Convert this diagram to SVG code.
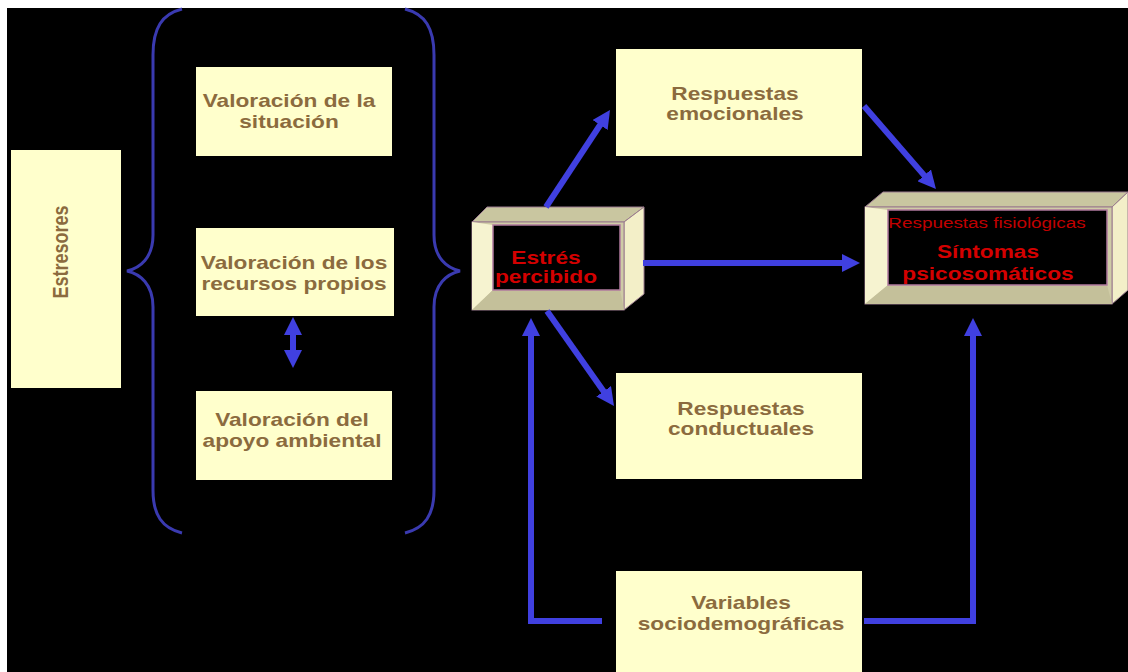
<svg xmlns="http://www.w3.org/2000/svg" width="1128" height="672" viewBox="0 0 1128 672">
<style>
.box{fill:#ffffcc}
.lbl{font-family:"Liberation Sans",Arial,sans-serif;font-weight:bold;font-size:18px;fill:#8b6b3e;text-anchor:middle}
.red{font-family:"Liberation Sans",Arial,sans-serif;font-weight:bold;font-size:18px;fill:#d40000;text-anchor:middle}
.small{font-family:"Liberation Sans",Arial,sans-serif;font-size:15px;fill:#c00000;text-anchor:middle}
.arrow{fill:none;stroke:#4040e0;stroke-width:6}
.brace{fill:none;stroke:#3a3ab0;stroke-width:3}
.top{fill:#c9c6a0;stroke:#9a7a8e;stroke-width:1}
.side{fill:#f3efc8;stroke:#9a7a8e;stroke-width:1}
.inner{fill:#000;stroke:#b07a9e;stroke-width:1.5}
</style>
<defs>
<marker id="ah" viewBox="0 0 18 18" markerWidth="18" markerHeight="18" markerUnits="userSpaceOnUse" refX="6" refY="9" orient="auto-start-reverse">
<path d="M0,0 L18,9 L0,18 z" fill="#4040e0"/>
</marker>
</defs>
<rect x="0" y="0" width="1128" height="672" fill="#ffffff"/>
<rect x="7" y="8" width="1121" height="664" fill="#000000"/>

<g id="braces">
<path class="brace" d="M182,9 C162,14 153,28 153,55 L153,235 C153,258 140,268 127,271 C140,274 153,284 153,307 L153,490 C153,515 162,528 182,533"/>
<path class="brace" d="M405,9 C425,14 434,28 434,55 L434,235 C434,258 447,268 460,271 C447,274 434,284 434,307 L434,490 C434,515 425,528 405,533"/>
</g>

<g id="estresores">
<rect class="box" x="11" y="150" width="110" height="238"/>
<text class="lbl" transform="translate(68,252) rotate(-90) scale(1,1.26)">Estresores</text>
</g>

<g id="valoracion-situacion">
<rect class="box" x="196" y="67" width="196" height="89"/>
<text class="lbl" transform="translate(289,107) scale(1.26,1)"><tspan x="0">Valoración de la</tspan><tspan x="0" y="21">situación</tspan></text>
</g>

<g id="valoracion-recursos">
<rect class="box" x="196" y="228" width="198" height="88"/>
<text class="lbl" transform="translate(294,269) scale(1.26,1)"><tspan x="0">Valoración de los</tspan><tspan x="0" y="21">recursos propios</tspan></text>
</g>

<g id="valoracion-apoyo">
<rect class="box" x="196" y="391" width="196" height="89"/>
<text class="lbl" transform="translate(292,426) scale(1.26,1)"><tspan x="0">Valoración del</tspan><tspan x="0" y="21">apoyo ambiental</tspan></text>
</g>

<g id="estres-percibido">
<polygon class="top" points="472,222 487,207 644,207 624,222"/>
<polygon class="side" points="624,222 644,207 644,294 624,310"/>
<rect x="472" y="222" width="152" height="88" fill="#cfcba6" stroke="#9a7a8e" stroke-width="1"/>
<polygon points="472,222 493,225 493,290 472,310" fill="#f6f3d0"/>
<polygon points="472,310 493,290 620,290 624,310" fill="#c4c09a"/>
<rect class="inner" x="493" y="225" width="127" height="65"/>
<text class="red" transform="translate(546,264) scale(1.26,1)"><tspan x="0">Estrés</tspan><tspan x="0" y="19">percibido</tspan></text>
</g>

<g id="sintomas">
<polygon class="top" points="865,207 883,192 1128,192 1112,207"/>
<polygon class="side" points="1112,207 1128,192 1128,290 1112,304"/>
<rect x="865" y="207" width="247" height="97" fill="#cfcba6" stroke="#9a7a8e" stroke-width="1"/>
<polygon points="865,207 888,210 888,285 865,304" fill="#f6f3d0"/>
<polygon points="865,304 888,285 1107,285 1112,304" fill="#c4c09a"/>
<rect class="inner" x="888" y="210" width="219" height="75"/>
<text class="small" transform="translate(987,228) scale(1.26,1)">Respuestas fisiológicas</text>
<text class="red" transform="translate(988,258) scale(1.26,1)"><tspan x="0">Síntomas</tspan><tspan x="0" y="22">psicosomáticos</tspan></text>
</g>

<g id="respuestas-emocionales">
<rect class="box" x="616" y="49" width="246" height="107"/>
<text class="lbl" transform="translate(735,100) scale(1.26,1)"><tspan x="0">Respuestas</tspan><tspan x="0" y="20">emocionales</tspan></text>
</g>

<g id="respuestas-conductuales">
<rect class="box" x="616" y="373" width="246" height="106"/>
<text class="lbl" transform="translate(741,415) scale(1.26,1)"><tspan x="0">Respuestas</tspan><tspan x="0" y="20">conductuales</tspan></text>
</g>

<g id="variables">
<rect class="box" x="616" y="571" width="246" height="101"/>
<text class="lbl" transform="translate(741,609) scale(1.26,1)"><tspan x="0">Variables</tspan><tspan x="0" y="21">sociodemográficas</tspan></text>
</g>

<g id="connectors">
<line class="arrow" x1="546" y1="207" x2="603.4" y2="120" marker-end="url(#ah)"/>
<line class="arrow" x1="547" y1="311" x2="607.1" y2="396.2" marker-end="url(#ah)"/>
<line class="arrow" x1="643" y1="263" x2="848" y2="263" marker-end="url(#ah)"/>
<line class="arrow" x1="864" y1="106" x2="928.1" y2="179.9" marker-end="url(#ah)"/>
<path class="arrow" d="M602,621 L531,621 L531,330" marker-end="url(#ah)"/>
<path class="arrow" d="M864,621 L973,621 L973,330" marker-end="url(#ah)"/>
<line class="arrow" x1="293" y1="329" x2="293" y2="356" marker-start="url(#ah)" marker-end="url(#ah)"/>
</g>
</svg>
